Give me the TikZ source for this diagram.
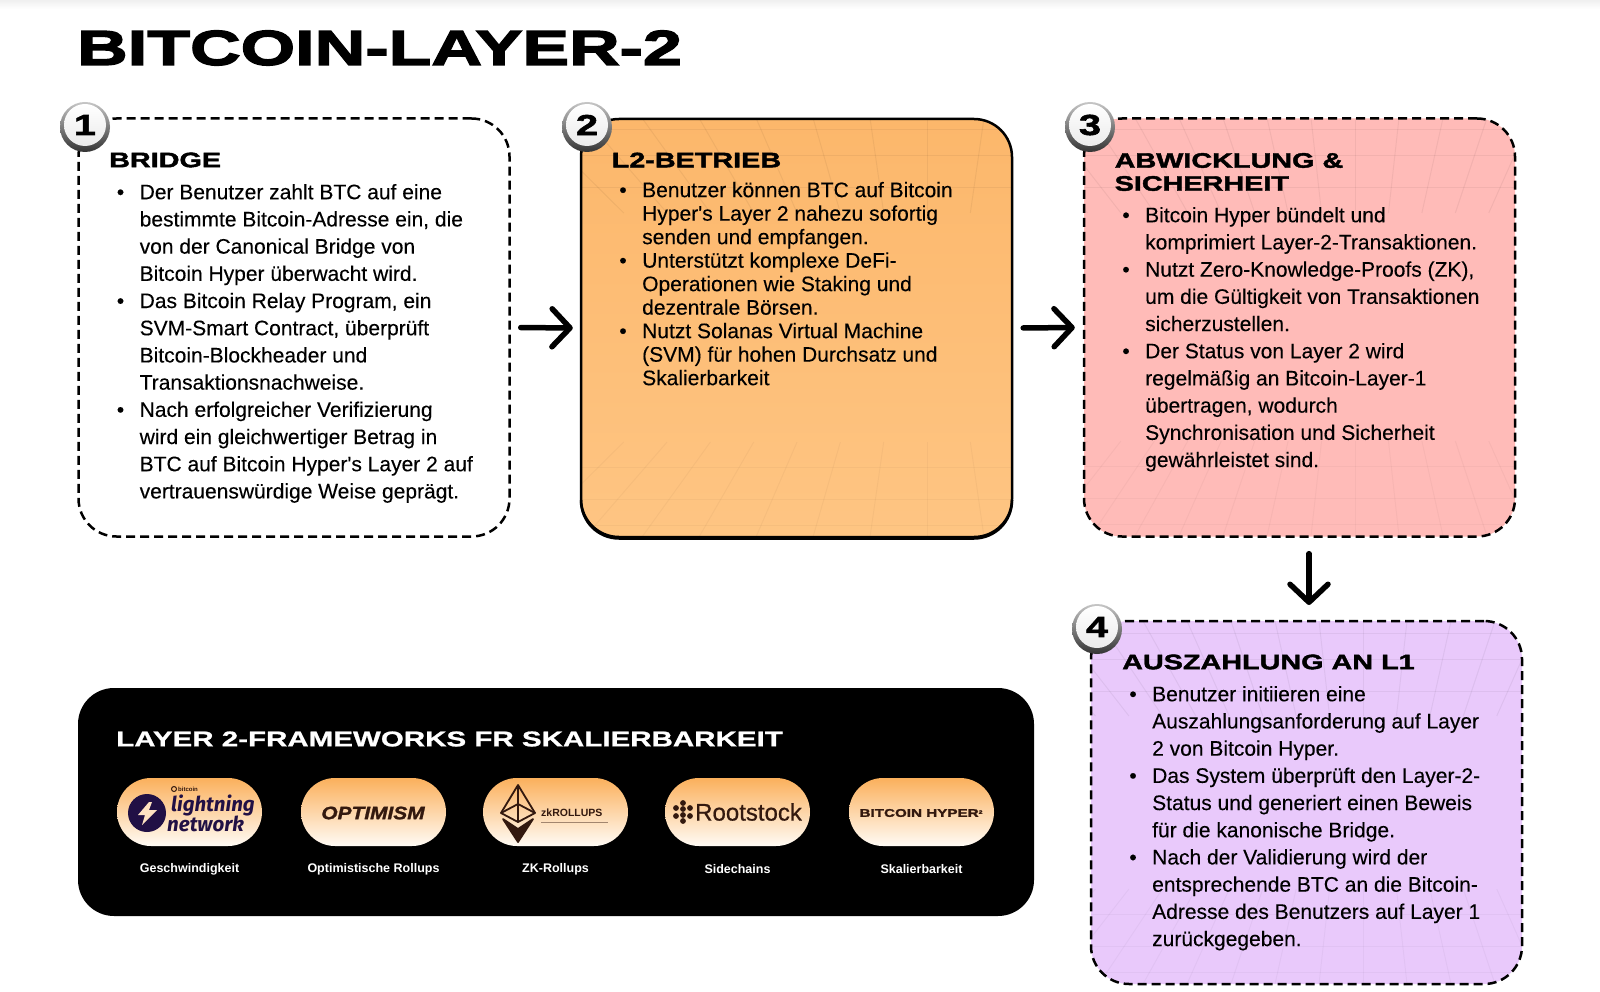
\documentclass[tikz,border=0pt]{standalone}
\usepackage{fontspec}
\usepackage{tikz}
\usetikzlibrary{arrows.meta}
\newfontfamily\bodyfam[FakeBold=0.2]{Liberation Sans}
\newfontfamily\capfam{Liberation Sans}
\newfontfamily\titlefam[FakeStretch=1.43,FakeBold=3]{Liberation Sans}
\newfontfamily\headfam[FakeStretch=1.37,FakeBold=2]{Liberation Sans}
\newfontfamily\wrapfam[FakeStretch=1.38,FakeBold=1]{Liberation Sans}
\newfontfamily\optfam[FakeStretch=1.16,FakeBold=1.5]{Liberation Sans}
\newfontfamily\rootfam[FakeBold=0.7]{Liberation Sans}
\newfontfamily\lnfam{Fira Sans}
\definecolor{pinkbox}{HTML}{FFBBB8}
\definecolor{lilacbox}{HTML}{E9C9FB}
\definecolor{orangetop}{HTML}{FCB76B}
\definecolor{orangelow}{HTML}{FEC583}
\definecolor{pilltop}{HTML}{FBB05C}
\definecolor{pilllow}{HTML}{FFFBF5}
\definecolor{logodark}{HTML}{33190F}
\definecolor{boltdark}{HTML}{211045}
\newcommand{\bul}{\strut\llap{\textbullet\hspace{15.5pt}}}
\tikzstyle{maintitle} = [anchor=west, inner sep=0pt, font=\titlefam\bfseries\fontsize{49}{49}\selectfont]
\tikzstyle{head} = [anchor=west, inner sep=0pt, align=left, font=\headfam\bfseries\fontsize{21}{23}\selectfont]
\tikzstyle{body} = [anchor=north west, inner sep=0pt, align=left, font=\bodyfam\fontsize{21}{27.2}\selectfont]
\tikzstyle{bodytight} = [body, font=\bodyfam\fontsize{21}{23.5}\selectfont]
\tikzstyle{bag} = [inner sep=0pt, minimum width=431pt, minimum height=418pt, rounded corners=38pt]
\tikzstyle{dashbox} = [bag, draw, line width=2.5pt, dash pattern=on 9pt off 5pt]
\tikzstyle{ring} = [circle, inner sep=0pt, minimum size=50pt, top color=gray!45, bottom color=black!80]
\tikzstyle{num} = [circle, inner sep=0pt, minimum size=42pt, top color=white, bottom color=white!92!black, font=\headfam\bfseries\fontsize{29}{29}\selectfont]
\tikzstyle{arr} = [line width=5.5pt, line cap=round, -{Straight Barb[length=18pt, width=38pt, round]}]
\tikzstyle{pill} = [inner sep=0pt, minimum width=145pt, minimum height=68pt, rounded corners=34pt, top color=pilltop, bottom color=pilllow]
\tikzstyle{captxt} = [inner sep=0pt, text=white, font=\capfam\bfseries\fontsize{12.5}{14}\selectfont]
\tikzstyle{eth} = [draw=logodark, line width=1.8pt, line join=round]
\tikzstyle{gridline} = [black, opacity=0.05, line width=1pt]
\tikzstyle{floorline} = [black, opacity=0.03, line width=1pt]
\newcommand{\boxgrid}[6]{
	\begin{scope}
		\clip[rounded corners=38pt] (#1,#2) rectangle (#3,#4);
		\foreach \k in {-8,...,8} {
			\draw[gridline] (#5+\k*#6,#2) -- (#5+\k*#6*0.76,#2+95);
			\draw[floorline] (#5+\k*#6,#4) -- (#5+\k*#6*0.76,#4-95);
		}
		\foreach \d in {12,38,70} {
			\draw[gridline] (#1,#2+\d) -- (#3,#2+\d);
			\draw[floorline] (#1,#4-\d) -- (#3,#4-\d);
		}
	\end{scope}
}

\begin{document}
\begin{tikzpicture}[x=1pt, y=-1pt]
	\useasboundingbox (0,0) rectangle (1600,992);
	\fill[white] (0,0) rectangle (1600,992);
	\shade[top color=black!6, bottom color=white] (0,0) rectangle (1600,9);

	\node[maintitle] (title) at (77,48) {BITCOIN-LAYER-2};

	\node[dashbox, fill=white] (box1) at (294,327.5) {};
	\node[bag, top color=orangetop, bottom color=orangelow] (box2) at (796.5,328) {};
	\node[bag, fill=pinkbox] (box3) at (1299.5,327.5) {};
	\node[bag, fill=lilacbox, minimum height=363pt] (box4) at (1306.5,802.5) {};

	\boxgrid{581}{118}{1012}{537}{927}{57}
	\boxgrid{1084}{118}{1515}{536}{1355}{44}
	\boxgrid{1091}{621}{1522}{984}{1363}{44}

	\draw[line width=2.5pt, rounded corners=38pt] (581,119) -- (1012,119) -- (1012,537) -- (581,537) -- cycle;
	\draw[line width=2.5pt, rounded corners=38pt] (1012,500) -- (1012,538.5) -- (581,538.5) -- (581,500);
	\node[dashbox] (edge3) at (1299.5,327.5) {};
	\node[dashbox, minimum height=363pt] (edge4) at (1306.5,802.5) {};

	\coordinate (dn) at (1309,621);
	\draw[arr, shorten <=10pt, shorten >=8pt] (box1.east) -- (box2.west);
	\draw[arr, shorten <=11pt, shorten >=9pt] (box2.east) -- (box3.west);
	\draw[arr, shorten <=17pt, shorten >=16pt] (box3.south -| dn) -- (dn);

	\node[ring] (ring1) at (85,127) {};
	\node[num] (num1) at (85,125) {1};
	\node[ring] (ring2) at (587,127) {};
	\node[num] (num2) at (587,125) {2};
	\node[ring] (ring3) at (1090,127) {};
	\node[num] (num3) at (1090,125) {3};
	\node[ring] (ring4) at (1097,629) {};
	\node[num] (num4) at (1097,627) {4};

	\node[head] (head1) at (109,160) {BRIDGE};
	\node[head] (head2) at (611.5,160) {L2-BETRIEB};
	\node[head] (head3) at (1114.5,172) {ABWICKLUNG \&\\SICHERHEIT};
	\node[head] (head4) at (1122,662) {AUSZAHLUNG AN L1};

	\node[body] (text1) at (139.5,180) {\bul Der Benutzer zahlt BTC auf eine\\bestimmte Bitcoin-Adresse ein, die\\von der Canonical Bridge von\\Bitcoin Hyper überwacht wird.\\\bul Das Bitcoin Relay Program, ein\\SVM-Smart Contract, überprüft\\Bitcoin-Blockheader und\\Transaktionsnachweise.\\\bul Nach erfolgreicher Verifizierung\\wird ein gleichwertiger Betrag in\\BTC auf Bitcoin Hyper's Layer 2 auf\\vertrauenswürdige Weise geprägt.};
	\node[bodytight] (text2) at (642,180.5) {\bul Benutzer können BTC auf Bitcoin\\Hyper's Layer 2 nahezu sofortig\\senden und empfangen.\\\bul Unterstützt komplexe DeFi-\\Operationen wie Staking und\\dezentrale Börsen.\\\bul Nutzt Solanas Virtual Machine\\(SVM) für hohen Durchsatz und\\Skalierbarkeit};
	\node[body] (text3) at (1145,203) {\bul Bitcoin Hyper bündelt und\\komprimiert Layer-2-Transaktionen.\\\bul Nutzt Zero-Knowledge-Proofs (ZK),\\um die Gültigkeit von Transaktionen\\sicherzustellen.\\\bul Der Status von Layer 2 wird\\regelmäßig an Bitcoin-Layer-1\\übertragen, wodurch\\Synchronisation und Sicherheit\\gewährleistet sind.};
	\node[body] (text4) at (1152,682) {\bul Benutzer initiieren eine\\Auszahlungsanforderung auf Layer\\2 von Bitcoin Hyper.\\\bul Das System überprüft den Layer-2-\\Status und generiert einen Beweis\\für die kanonische Bridge.\\\bul Nach der Validierung wird der\\entsprechende BTC an die Bitcoin-\\Adresse des Benutzers auf Layer 1\\zurückgegeben.};

	\node[fill=black, inner sep=0pt, minimum width=956pt, minimum height=228pt, rounded corners=36pt] (panel) at (556,802) {};
	\node[anchor=west, inner sep=0pt, text=white, font=\wrapfam\bfseries\fontsize{21.4}{22}\selectfont] (panelhead) at (116,739) {LAYER 2-FRAMEWORKS FR SKALIERBARKEIT};

	\foreach \i/\x/\txt in {1/189.5/Geschwindigkeit, 2/373.5/Optimistische Rollups, 3/555.5/ZK-Rollups, 4/737.5/Sidechains, 5/921.5/Skalierbarkeit} {
		\node[pill] (pill\i) at (\x,812) {};
		\node[captxt] (cap\i) at (\x,869) {\txt};
	}

	\node[circle, fill=boltdark, inner sep=0pt, minimum size=38pt] (bolt) at (147,813) {};
	\fill[orangelow!50!white] (149,802) -- (138,815) -- (145,815) -- (142,825) -- (157,810) -- (149,810) -- (152,802) -- cycle;
	\node[anchor=west, inner sep=0pt, text=logodark, font=\capfam\bfseries\fontsize{6}{6}\selectfont] (btc) at (178,789) {bitcoin};
	\node[circle, draw=logodark, line width=1pt, inner sep=0pt, minimum size=5pt] (btcdot) at (174,789) {};
	\node[anchor=west, inner sep=0pt, text=boltdark, font=\lnfam\itshape\bfseries\fontsize{20.5}{20.5}\selectfont] (ln1) at (171,805) {lightning};
	\node[anchor=west, inner sep=0pt, text=boltdark, font=\lnfam\itshape\bfseries\fontsize{20.5}{20.5}\selectfont] (ln2) at (167,824) {network};

	\node[inner sep=0pt, text=logodark, font=\optfam\bfseries\itshape\fontsize{18}{18}\selectfont] (opt) at (373,813) {OPTIMISM};

	\draw[eth] (518,785) -- (501,813) -- (518,822) -- (535,813) -- cycle;
	\draw[eth] (518,785) -- (518,822) (501,813) -- (518,804) -- (535,813);
	\draw[eth, fill=logodark] (503,819) -- (518,842) -- (533,819) -- (518,829) -- cycle;
	\node[anchor=west, inner sep=0pt, text=logodark, font=\capfam\bfseries\fontsize{10.5}{11}\selectfont] (zk) at (541,813) {zkROLLUPS};
	\fill[logodark, opacity=0.45] (541,821.5) rectangle (608,823);

	\node[anchor=west, inner sep=0pt, text=logodark, font=\rootfam\fontsize{24}{24}\selectfont] (root) at (695,812) {Rootstock};
	\foreach \x/\y in {683/803, 676/808, 690/808, 683/809, 676/816, 690/816, 683/815, 683/821} {
		\fill[logodark] (\x,\y) circle (2.9);
	}

	\node[inner sep=0pt, text=logodark, font=\headfam\bfseries\fontsize{11.1}{11}\selectfont] (hyper) at (921,813) {BITCOIN HYPER\raisebox{3pt}{\fontsize{5}{5}\selectfont 2}};
\end{tikzpicture}
\end{document}
